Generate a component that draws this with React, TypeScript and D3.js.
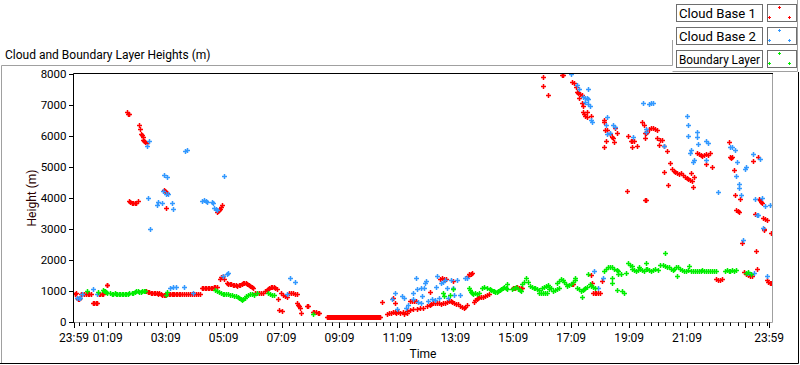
import React, { useEffect, useRef } from "react";
import * as d3 from "d3";

type Pt = [number, number]; // [minutes since 23:59, height in m]

const cloudBase1: Pt[] = [
  [2, 910], [4, 920], [6, 780], [8, 740], [10, 740], [12, 760], [14, 900], [17, 910], [20, 900], [24, 900],
  [28, 910], [32, 900], [36, 900], [40, 620], [42, 610], [45, 620], [48, 620], [51, 900], [54, 910], [57, 900],
  [60, 900], [68, 1200], [69, 1190],
  [147, 1010], [150, 1000], [153, 970], [156, 960], [159, 950], [162, 940], [165, 940], [168, 930], [171, 930],
  [174, 910], [177, 920], [180, 900], [183, 880], [186, 870], [189, 870], [193, 900], [196, 910], [199, 900],
  [202, 910], [205, 900], [208, 910], [211, 900], [214, 910], [217, 900], [220, 910], [224, 900], [228, 910],
  [232, 900], [236, 910], [240, 900], [244, 900], [248, 890], [252, 900], [256, 910], [260, 900],
  [265, 1100], [268, 1110], [271, 1110], [274, 1100], [277, 1100], [280, 1110], [283, 1100], [286, 1100],
  [290, 1120], [293, 1130], [296, 1130], [302, 1400], [305, 1440], [308, 1470], [311, 1400],
  [317, 1270], [320, 1230], [323, 1220], [326, 1210], [329, 1200], [332, 1190], [335, 1180], [338, 1170],
  [341, 1180], [344, 1200], [347, 1230], [350, 1250], [353, 1270], [356, 1250], [359, 1230], [362, 1190],
  [365, 1170], [368, 1140], [371, 1100],
  [375, 940], [379, 930], [383, 920], [387, 930], [391, 950], [395, 990], [399, 1040], [402, 1080], [405, 1110],
  [408, 1130], [411, 1140], [414, 1130], [417, 1110], [420, 1060],
  [422, 750], [424, 390], [431, 360], [428, 930], [433, 880], [437, 850], [441, 820], [445, 940], [449, 930],
  [453, 920], [457, 900], [461, 910], [462, 620], [464, 560], [466, 520], [468, 460], [470, 290], [482, 520],
  [485, 520], [495, 330], [498, 330], [501, 310], [505, 290], [508, 280],
  [524, 160], [526, 160], [528, 160], [530, 160], [532, 160], [534, 160], [536, 160], [538, 160], [540, 160],
  [542, 160], [544, 160], [546, 160], [548, 160], [550, 160], [552, 160], [554, 160], [556, 160], [558, 160],
  [560, 160], [562, 160], [564, 160], [566, 160], [568, 160], [570, 160], [572, 160], [574, 160], [576, 160],
  [578, 160], [580, 160], [582, 160], [584, 160], [586, 160], [588, 160], [590, 160], [592, 160], [594, 160],
  [596, 160], [598, 160], [600, 160], [602, 160], [604, 160], [606, 160], [608, 160], [610, 160], [612, 160],
  [614, 160], [616, 160], [618, 160], [620, 160], [622, 160], [624, 160], [626, 160], [628, 160], [630, 160],
  [632, 160], [634, 160], [638, 650], [648, 260], [652, 290], [656, 300], [660, 320], [664, 330], [668, 300],
  [672, 310], [660, 780], [664, 620],
  [675, 300], [681, 330], [683, 270], [689, 360], [690, 300], [696, 390], [702, 420], [710, 420], [716, 460],
  [722, 460], [731, 520], [737, 550], [696, 680], [700, 690], [704, 680], [708, 670], [737, 980],
  [740, 590], [744, 600], [748, 620], [752, 610], [756, 600], [760, 590], [764, 610], [768, 620], [772, 650],
  [776, 680], [780, 670], [784, 650], [788, 620], [758, 1400], [762, 1410], [766, 1400], [770, 1390], [785, 1330],
  [792, 590], [796, 570], [800, 520], [804, 480], [808, 460], [811, 500], [814, 560],
  [816, 1500], [819, 1540], [822, 1560], [825, 1580],
  [828, 660], [831, 700], [834, 740], [837, 780], [840, 800], [844, 810], [848, 820], [852, 850], [856, 880],
  [860, 910], [909, 1100], [913, 1110], [917, 1120], [921, 1100], [925, 1100], [929, 1110],
  [1031, 1240], [1033, 1210], [1072, 1530], [1074, 1270], [1076, 940], [1079, 930], [1082, 940], [1085, 930],
  [1089, 950], [1093, 1330],
  [1331, 1390], [1335, 1370], [1339, 1370], [1343, 1380], [1389, 1620], [1393, 1560], [1397, 1520], [1401, 1500],
  [1405, 1500], [1412, 2280], [1414, 1720], [1435, 1370], [1438, 1300], [1441, 1270], [1444, 1250],
  [1383, 2540], [1430, 2960], [1443, 2860],
  // high layer, early morning
  [110, 6780], [112, 6700], [114, 6720], [135, 6370], [137, 6210], [139, 6080], [141, 6020], [143, 5980],
  [143, 5880], [145, 5850], [147, 5820], [151, 5760],
  [114, 3900], [117, 3870], [120, 3850], [123, 3840], [126, 3830], [129, 3850], [132, 3890],
  [186, 4260], [188, 4230], [190, 4200], [192, 4160], [190, 3670],
  [296, 3540], [298, 3580], [300, 3620], [302, 3660], [304, 3710], [306, 3760],
  // high layer, afternoon / evening
  [971, 7900], [971, 7600], [981, 7310], [1010, 7960], [1014, 7980], [1031, 7740], [1035, 7700], [1039, 7570],
  [1041, 7410], [1045, 7380], [1049, 7340], [1052, 7310], [1047, 7220], [1052, 7050], [1054, 6960],
  [1054, 6760], [1056, 6700], [1058, 6630], [1062, 6600], [1062, 6760], [1070, 6660], [1097, 6530], [1099, 6440],
  [1101, 6180], [1105, 6180], [1110, 6050], [1114, 5980], [1116, 5950], [1120, 6270], [1124, 6110], [1103, 5850],
  [1118, 5820], [1099, 5660], [1147, 6010], [1153, 5850], [1157, 5850], [1161, 5850], [1157, 5660], [1167, 5690],
  [1176, 6440], [1180, 6370], [1182, 6110], [1186, 6110], [1188, 6140], [1182, 5920], [1192, 6240], [1196, 6270],
  [1199, 6270], [1203, 6240], [1207, 6180], [1207, 5950], [1213, 5880], [1219, 5880], [1211, 5720], [1223, 5690],
  [1228, 5530], [1234, 5140], [1238, 4940], [1242, 4880], [1246, 4840], [1250, 4810], [1254, 4780], [1258, 4810],
  [1261, 4750], [1265, 4680], [1269, 4650], [1273, 4620], [1277, 4580], [1281, 4550], [1279, 4810], [1285, 4680],
  [1283, 4360], [1223, 4840], [1230, 4420], [1145, 4230], [1182, 3930], [1186, 3930],
  [1290, 5460], [1294, 5430], [1298, 5400], [1302, 5370], [1306, 5400], [1310, 5430], [1314, 5400], [1317, 5460],
  [1310, 5100], [1321, 5010], [1356, 5820], [1358, 5330], [1362, 5300], [1364, 5330], [1368, 4910], [1370, 4100],
  [1379, 3970], [1372, 3610], [1375, 3570], [1377, 3540], [1406, 5200], [1418, 5330], [1410, 3480],
  [1420, 3970], [1422, 3930], [1424, 3870], [1426, 3840], [1428, 3350], [1432, 3310], [1435, 3280], [1430, 2990],
];

const cloudBase2: Pt[] = [
  [6, 780], [10, 780], [12, 790], [17, 910], [39, 1070], [48, 910], [199, 1110], [205, 1140], [211, 1140],
  [228, 1140], [246, 950], [308, 1500], [317, 1560], [319, 1590], [447, 1430], [457, 1300], [441, 910],
  [658, 750], [664, 940], [669, 420], [679, 850], [683, 780], [687, 460], [691, 550], [702, 940], [702, 750],
  [708, 1430], [710, 1070], [712, 650], [718, 1110], [720, 850], [718, 620], [725, 1110], [727, 1270], [729, 1330],
  [733, 680], [741, 750], [747, 720], [749, 1140], [751, 1500], [756, 780], [760, 1270], [764, 1300], [768, 1370],
  [772, 1110], [774, 780], [780, 1370], [785, 1110], [787, 880], [793, 1370], [799, 880], [809, 1430], [814, 1430],
  [1085, 1110], [1095, 1430], [1078, 1630], [1385, 2630], [1397, 1590], [1408, 1590], [1435, 1500],
  [155, 5850], [151, 5690], [230, 5530], [234, 5560], [186, 4750], [193, 4680], [311, 4710], [153, 4000],
  [184, 4230], [190, 4130], [195, 4130], [174, 3870], [172, 3770], [182, 3840], [203, 3840], [205, 3640],
  [157, 2990], [265, 3900], [269, 3930], [273, 3900], [275, 3870], [286, 3870], [288, 3840], [290, 3670],
  [294, 3640], [296, 3610],
  [1029, 8000], [1041, 7640], [1047, 7510], [1054, 7250], [1058, 7220], [1062, 7220], [1064, 7180], [1064, 7510],
  [1058, 7090], [1064, 7020], [1068, 6960], [1072, 6530], [1074, 6440], [1105, 6600], [1103, 6340], [1116, 6340],
  [1120, 6300], [1105, 6080], [1110, 6110], [1159, 5980], [1178, 7050], [1192, 7020], [1196, 7050], [1199, 7050],
  [1184, 6240], [1186, 6140], [1223, 5690], [1269, 6630], [1273, 6340], [1271, 6010], [1290, 6140], [1290, 5980],
  [1292, 5750], [1279, 5560], [1277, 5460], [1285, 5230], [1283, 5170], [1310, 5850], [1314, 5790], [1310, 5230],
  [1335, 4190], [1360, 5660], [1364, 5660], [1370, 5560], [1374, 5170], [1372, 4710], [1377, 4450], [1377, 4320],
  [1381, 4100], [1393, 5010], [1391, 4940], [1406, 5430], [1410, 3970], [1414, 3450], [1416, 3450], [1422, 5270],
  [1426, 4000], [1432, 3740], [1441, 3770], [1428, 3020],
];

const boundaryLayer: Pt[] = [
  [27, 1010], [50, 980], [60, 1040], [62, 1010], [64, 990], [66, 960], [68, 950], [75, 920], [78, 910], [81, 910],
  [84, 920], [87, 910], [90, 910], [93, 910], [96, 910], [99, 910], [102, 900], [105, 900], [108, 910], [111, 910],
  [114, 920], [120, 930], [123, 950], [126, 980], [129, 990], [132, 1000], [135, 980], [138, 970], [141, 990],
  [144, 1000], [147, 990], [193, 980], [190, 880],
  [292, 1040], [296, 1000], [300, 960], [304, 930], [308, 910], [311, 890], [315, 900], [319, 890], [323, 870],
  [327, 860], [331, 850], [335, 840], [339, 800], [342, 760], [345, 730], [348, 720], [351, 750], [354, 780],
  [357, 850], [360, 880], [364, 910], [368, 900], [372, 870], [379, 940], [402, 940], [406, 910], [410, 880],
  [414, 860], [495, 260],
  [764, 940], [766, 850], [778, 880], [785, 1070], [818, 1110], [820, 1040], [822, 970], [824, 940], [826, 910],
  [830, 940], [834, 910], [838, 930], [845, 1110], [850, 1140], [855, 1110], [861, 1070], [864, 1040], [867, 1010],
  [870, 1000], [873, 970], [876, 980], [879, 1010], [882, 1040], [885, 1070], [888, 1100], [891, 1130], [894, 1110],
  [897, 1080], [898, 1230], [907, 1070], [911, 1100], [915, 1120], [919, 1060], [923, 1040], [927, 1010],
  [929, 1240], [933, 1300], [937, 1430], [940, 1300], [944, 1170], [948, 1140], [952, 1110], [956, 1100],
  [960, 1070], [964, 1040], [963, 940], [967, 950], [971, 940], [975, 950], [979, 940], [969, 1100], [973, 1140],
  [977, 1170], [981, 1200], [985, 1140], [989, 1110], [985, 1070], [992, 1010], [996, 1040], [1000, 1070],
  [1004, 1100], [1000, 1270], [1004, 1330], [1008, 1400], [1012, 1370], [1016, 1300], [1020, 1230], [1021, 1170],
  [1025, 1200], [1029, 1240], [1033, 1300], [1037, 1360], [1037, 1430], [1043, 1100], [1047, 1070], [1050, 1010],
  [1054, 1040], [1058, 1100], [1062, 1130], [1052, 810], [1056, 1070], [1064, 1560], [1068, 1240], [1072, 1170],
  [1076, 1140], [1080, 1100],
  [1099, 1660], [1103, 1720], [1107, 1760], [1111, 1760], [1115, 1760], [1119, 1720], [1124, 1690], [1128, 1660],
  [1114, 1430], [1114, 1270], [1124, 1040], [1136, 1010], [1139, 940], [1126, 1560], [1134, 1560], [1143, 1590],
  [1147, 1890], [1151, 1850], [1155, 1820], [1157, 1720], [1161, 1690], [1165, 1660], [1169, 1690], [1173, 1720],
  [1177, 1690], [1180, 1660], [1184, 1720], [1170, 1790], [1184, 1890], [1188, 1720], [1192, 1690], [1196, 1660],
  [1200, 1690], [1204, 1720], [1213, 1850], [1220, 1850], [1224, 1820], [1209, 1690], [1228, 1790], [1232, 1760],
  [1236, 1720], [1240, 1690], [1244, 1720], [1248, 1760], [1252, 1790], [1250, 1500], [1275, 1820], [1256, 1720],
  [1260, 1690], [1264, 1660], [1268, 1660], [1272, 1690], [1278, 1660], [1282, 1630], [1286, 1660], [1290, 1660],
  [1294, 1630], [1298, 1660], [1302, 1690], [1306, 1660], [1310, 1630], [1314, 1660], [1318, 1660], [1322, 1630],
  [1326, 1660], [1330, 1660], [1348, 1660], [1352, 1690], [1356, 1660], [1360, 1660], [1364, 1690], [1368, 1660],
  [1372, 1690], [1393, 1590], [1397, 1620], [1403, 1560], [1225, 2240],
];

const seriesNames = ["Cloud Base 1", "Cloud Base 2", "Boundary Layer"];
const seriesColors = ["#ff0000", "#3399ff", "#00ee00"];
const heightTicks = [0, 1000, 2000, 3000, 4000, 5000, 6000, 7000, 8000];
const timeTickMinutes = [0, 70, 190, 310, 430, 550, 670, 790, 910, 1030, 1150, 1270, 1390, 1440];
const timeTickLabels = ["23:59", "01:09", "03:09", "05:09", "07:09", "09:09", "11:09", "13:09", "15:09", "17:09", "19:09", "21:09", "", "23:59"];

const W = 800;
const H = 365;
const plot = { left: 74, right: 772, top: 74, bottom: 322 };
const FONT = "Roboto, 'Noto Sans', sans-serif";

const App = () => {
  const ref = useRef<SVGSVGElement>(null);

  useEffect(() => {
    const svg = d3.select(ref.current);
    svg.selectAll("*").remove();

    const x = d3.scaleLinear().domain([0, 1446]).range([plot.left, plot.right]);
    const y = d3.scaleLinear().domain([0, 8000]).range([plot.bottom, plot.top]);

    svg.append("rect").attr("width", W).attr("height", H).attr("fill", "#fff");

    // outer frame
    svg.append("path").attr("d", "M1.5,363 V65.5 H672.5 V40").attr("fill", "none").attr("stroke", "#a0a0a0");
    svg.append("path").attr("d", "M672.5,71.5 H797.5 V0").attr("fill", "none").attr("stroke", "#a0a0a0");
    svg.append("path").attr("d", "M0,363.5 H798.5 V72").attr("fill", "none").attr("stroke", "#000");

    svg.append("text").attr("x", 5).attr("y", 59).attr("font-family", FONT).attr("font-size", 12)
      .attr("fill", "#000").text("Cloud and Boundary Layer Heights (m)");

    // plot area
    svg.append("rect").attr("x", plot.left).attr("y", plot.top)
      .attr("width", plot.right - plot.left).attr("height", plot.bottom - plot.top).attr("fill", "#fff");
    svg.append("path")
      .attr("d", `M${plot.right + 0.5},${plot.top} V${plot.bottom + 0.5} H${plot.left}`)
      .attr("fill", "none").attr("stroke", "#a0a0a0");
    svg.append("path")
      .attr("d", `M${plot.left - 0.5},${plot.bottom} V${plot.top - 0.5} H${plot.right + 1}`)
      .attr("fill", "none").attr("stroke", "#000");

    // y axis
    const ya = svg.append("g").attr("transform", `translate(${plot.left - 0.5},0)`)
      .call(d3.axisLeft(y).tickValues(heightTicks).tickSize(5).tickPadding(2).tickFormat(d3.format("d")));
    ya.select(".domain").remove();
    ya.selectAll("line").attr("stroke", "#000").attr("shape-rendering", "crispEdges");
    ya.selectAll("text").attr("font-family", FONT).attr("font-size", 11.5).attr("fill", "#000");

    // x axis, minor ticks every 15 minutes
    const minor = d3.range(10, 1440, 15).filter((m) => !timeTickMinutes.includes(m));
    const xa = svg.append("g").attr("transform", `translate(0,${plot.bottom + 0.5})`);
    xa.selectAll(".minor").data(minor).join("line").attr("class", "minor")
      .attr("x1", (d) => Math.round(x(d)) + 0.5).attr("x2", (d) => Math.round(x(d)) + 0.5)
      .attr("y1", 0).attr("y2", 3.5).attr("stroke", "#000");
    xa.selectAll(".major").data(timeTickMinutes).join("line").attr("class", "major")
      .attr("x1", (d) => Math.round(x(d)) + 0.5).attr("x2", (d) => Math.round(x(d)) + 0.5)
      .attr("y1", 0).attr("y2", 5.5).attr("stroke", "#000");
    xa.selectAll("text").data(timeTickMinutes).join("text")
      .attr("x", (d) => x(d)).attr("y", 19).attr("text-anchor", "middle")
      .attr("font-family", FONT).attr("font-size", 12).attr("fill", "#000")
      .text((d, i) => timeTickLabels[i]);

    svg.append("text").attr("x", (plot.left + plot.right) / 2).attr("y", 358).attr("text-anchor", "middle")
      .attr("font-family", FONT).attr("font-size", 12).attr("fill", "#000").text("Time");
    svg.append("text")
      .attr("transform", `translate(36,${(plot.top + plot.bottom) / 2}) rotate(-90)`)
      .attr("text-anchor", "middle").attr("font-family", FONT).attr("font-size", 12)
      .attr("fill", "#2b0000").text("Height (m)");

    // points
    svg.append("clipPath").attr("id", "plotClip").append("rect")
      .attr("x", plot.left).attr("y", plot.top)
      .attr("width", plot.right - plot.left).attr("height", plot.bottom - plot.top);
    const cross = "M-2.5,0H2.5M0,-2.5V2.5";
    [cloudBase1, cloudBase2, boundaryLayer].forEach((data, i) => {
      svg.append("g").attr("clip-path", "url(#plotClip)")
        .selectAll("path").data(data).join("path")
        .attr("d", cross)
        .attr("transform", (d) => `translate(${Math.round(x(d[0])) + 0.5},${Math.round(y(d[1])) + 0.5})`)
        .attr("fill", "none").attr("stroke", seriesColors[i]).attr("stroke-width", 1.5);
    });

    // legend
    const legendWidths = [77, 77, 81];
    const lg = svg.append("g");
    seriesNames.forEach((name, i) => {
      const top = 4 + 23 * i;
      lg.append("rect").attr("x", 676.5).attr("y", top + 0.5).attr("width", 86).attr("height", 17)
        .attr("fill", "#fff").attr("stroke", "#6e6e6e");
      lg.append("text").attr("x", 679).attr("y", top + 13.5).attr("font-family", FONT).attr("font-size", 13)
        .attr("textLength", legendWidths[i]).attr("lengthAdjust", "spacingAndGlyphs")
        .attr("fill", "#000").text(name);
      lg.append("rect").attr("x", 767.5).attr("y", top + 0.5).attr("width", 29).attr("height", 17)
        .attr("fill", "#fff").attr("stroke", "#6e6e6e");
      [[12, 3], [2, 13], [22, 13]].forEach(([dx, dy]) => {
        lg.append("path").attr("d", "M-1.5,0H1.5M0,-1.5V1.5")
          .attr("transform", `translate(${767 + dx + 0.5},${top + dy + 0.5})`)
          .attr("fill", "none").attr("stroke", seriesColors[i]);
      });
    });
  }, []);

  return <svg ref={ref} width={W} height={H} style={{ position: "absolute", left: 0, top: 0 }}></svg>;
};

export default App;
